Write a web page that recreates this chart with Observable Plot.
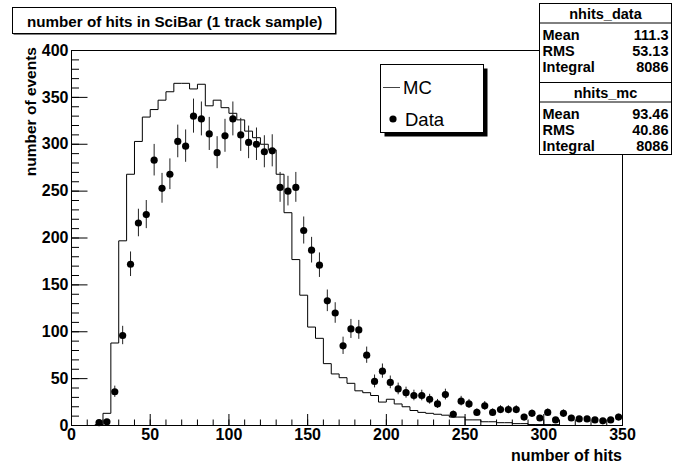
<!DOCTYPE html>
<html><head><meta charset="utf-8">
<script src="https://cdn.jsdelivr.net/npm/d3@7"></script>
<script src="https://cdn.jsdelivr.net/npm/@observablehq/plot@0.6"></script>
<style>
body{margin:0;background:#fff;}
#chart svg{display:block;}
</style>
</head><body><div id="chart"></div>
<script>
// ---- data ----
const xDomain = [0, 350];
const yDomain = [0, 400];
const xMajorTicks = [0, 50, 100, 150, 200, 250, 300, 350];
const yMajorTicks = [0, 50, 100, 150, 200, 250, 300, 350, 400];
const xMinorTicks = [0,10,20,30,40,50,60,70,80,90,100,110,120,130,140,150,160,170,180,190,200,210,220,230,240,250,260,270,280,290,300,310,320,330,340,350];
const yMinorTicks = [0,10,20,30,40,50,60,70,80,90,100,110,120,130,140,150,160,170,180,190,200,210,220,230,240,250,260,270,280,290,300,310,320,330,340,350,360,370,380,390,400];

// MC histogram: lower bin edges (width 5) and counts
const mcBinLow = [0,5,10,15,20,25,30,35,40,45,50,55,60,65,70,75,80,85,90,95,100,105,110,115,120,125,130,135,140,145,150,155,160,165,170,175,180,185,190,195,200,205,210,215,220,225,230,235,240,245,250,255,260,265,270,275,280,285,290,295,300,305,310,315,320,325,330,335,340,345];
const mcCounts = [0,0,0,1,13,88,197,268,303,329,337,347,356,365,365,359,364,341,347,339,333,326,314,307,300,294,268,227,177,139,105,93,66,55,51,45,37,35,32,25,28,23,20,16,14,13,12,11,9,9,6,6,4,4,3,3,2,2,1,1,1,1,0,0,0,0,0,0,0,0];

// Data points: bin centres and counts
const dataX = [17.5,22.5,27.5,32.5,37.5,42.5,47.5,52.5,57.5,62.5,67.5,72.5,77.5,82.5,87.5,92.5,97.5,102.5,107.5,112.5,117.5,122.5,127.5,132.5,137.5,142.5,147.5,152.5,157.5,162.5,167.5,172.5,177.5,182.5,187.5,192.5,197.5,202.5,207.5,212.5,217.5,222.5,227.5,232.5,237.5,242.5,247.5,252.5,257.5,262.5,267.5,272.5,277.5,282.5,287.5,292.5,297.5,302.5,307.5,312.5,317.5,322.5,327.5,332.5,337.5,342.5,347.5];
const dataY = [3,4,36,96,172,216,225,283,253,268,303,298,330,327,311,291,309,327,310,302,300,292,293,254,250,254,208,187,171,133,120,85,103,102,75,47,58,46,39,35,32,32,28,23,33,12,26,23,14,21,14,17,17,17,9,13,8,14,6,13,8,7,7,6,5,6,9];

const titleText = "number of hits in SciBar (1 track sample)";
const xTitle = "number of hits";
const yTitle = "number of events";
const statsData = {name: "nhits_data", rows: [["Mean","111.3"],["RMS","53.13"],["Integral","8086"]]};
const statsMc = {name: "nhits_mc", rows: [["Mean","93.46"],["RMS","40.86"],["Integral","8086"]]};
const legendItems = ["MC", "Data"];

// ---- build ----
const mcPts = mcBinLow.map((x, i) => ({x, y: mcCounts[i]}));
mcPts.push({x: xDomain[1], y: mcCounts[mcCounts.length - 1]});
const dataPts = dataX.map((x, i) => ({x, y: dataY[i]}));

const FONT = "'Liberation Sans', Arial, Helvetica, sans-serif";
const W = 673, H = 468;
const mL = 71, mR = 51, mT = 50, mB = 43;

const plot = Plot.plot({
  width: W, height: H,
  marginLeft: mL, marginRight: mR, marginTop: mT, marginBottom: mB,
  style: {fontFamily: FONT, background: "white", color: "black", overflow: "visible"},
  x: {domain: xDomain, label: null},
  y: {domain: yDomain, label: null},
  marks: [
    Plot.line(mcPts, {x: "x", y: "y", curve: "step-after", stroke: "black", strokeWidth: 1}),
    Plot.ruleX(dataPts, {x: "x", y1: d => d.y - Math.sqrt(d.y), y2: d => d.y + Math.sqrt(d.y), stroke: "#222", strokeWidth: 1}),
    Plot.dot(dataPts, {x: "x", y: "y", r: 3.6, fill: "black", stroke: "none"}),
    Plot.axisY({ticks: yMinorTicks, tickSize: -8, tickFormat: () => "", label: null}),
    Plot.axisY({ticks: yMajorTicks, tickSize: -16.5, tickFormat: () => "", label: null}),
    Plot.axisY({ticks: yMajorTicks, tickSize: 0, tickPadding: 3, fontSize: 16, fontWeight: "bold", label: null}),
    Plot.axisX({ticks: xMinorTicks, tickSize: -5.5, tickFormat: () => "", label: null}),
    Plot.axisX({ticks: xMajorTicks, tickSize: -11, tickFormat: () => "", label: null}),
    Plot.axisX({ticks: xMajorTicks, tickSize: 0, tickPadding: 3, fontSize: 16, fontWeight: "bold", label: null}),
    Plot.frame({stroke: "black", strokeWidth: 1})
  ]
});

document.getElementById("chart").appendChild(plot);
const svg = d3.select(plot);

function addText(parent, x, y, str, size, bold, anchor) {
  return parent.append("text").attr("x", x).attr("y", y)
    .attr("text-anchor", anchor || "start")
    .attr("font-family", FONT).attr("font-weight", bold ? "bold" : "normal")
    .attr("font-size", size).attr("fill", "black").text(str);
}

// axis titles
addText(svg, W - mR, H - 7, xTitle, 16, true, "end");
svg.append("text")
  .attr("transform", `translate(36,${mT - 3}) rotate(-90)`)
  .attr("text-anchor", "end")
  .attr("font-family", FONT).attr("font-weight", "bold").attr("font-size", 15.5).attr("fill", "black")
  .text(yTitle);

// title box
const tb = svg.append("g");
tb.append("rect").attr("x", 13.5).attr("y", 8.5).attr("width", 323).attr("height", 26).attr("fill", "black");
tb.append("rect").attr("x", 12.5).attr("y", 7.5).attr("width", 323).attr("height", 26).attr("fill", "white").attr("stroke", "black");
addText(tb, 27, 26.5, titleText, 15.2, true, "start");

// legend
const lg = svg.append("g");
lg.append("rect").attr("x", 384.5).attr("y", 68.5).attr("width", 103).attr("height", 68).attr("fill", "black");
lg.append("rect").attr("x", 380.5).attr("y", 64.5).attr("width", 103).attr("height", 68).attr("fill", "white").attr("stroke", "black");
lg.append("line").attr("x1", 383).attr("x2", 400).attr("y1", 87.5).attr("y2", 87.5).attr("stroke", "#444").attr("stroke-width", 1);
addText(lg, 403, 94, legendItems[0], 18.5, false, "start");
lg.append("circle").attr("cx", 393).attr("cy", 119).attr("r", 3.6).attr("fill", "black");
addText(lg, 405, 126, legendItems[1], 18.5, false, "start");

// stats boxes
function statsBox(s, y0, h) {
  const g = svg.append("g");
  const x0 = 539.5, w = 132;
  g.append("rect").attr("x", x0).attr("y", y0).attr("width", w).attr("height", h).attr("fill", "white").attr("stroke", "black");
  g.append("line").attr("x1", x0).attr("x2", x0 + w).attr("y1", y0 + 19.5).attr("y2", y0 + 19.5).attr("stroke", "black");
  addText(g, x0 + w / 2, y0 + 15, s.name, 14.5, true, "middle");
  s.rows.forEach((r, i) => {
    const y = y0 + 36 + i * 16.3;
    addText(g, x0 + 3, y, r[0], 14.5, true, "start");
    addText(g, x0 + w - 3, y, r[1], 14.5, true, "end");
  });
}
statsBox(statsData, 3.5, 79);
statsBox(statsMc, 82.5, 72);
</script>
</body></html>
